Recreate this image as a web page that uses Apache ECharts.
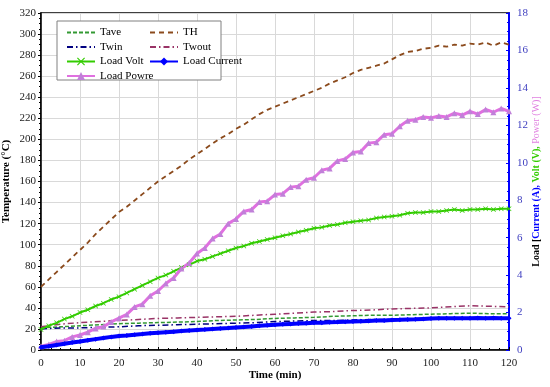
<!DOCTYPE html>
<html><head><meta charset="utf-8">
<script src="https://cdn.jsdelivr.net/npm/echarts@6/dist/echarts.min.js"></script>
<style>html,body{margin:0;padding:0;background:#fff}#c{width:550px;height:387px}</style>
</head><body><div id="c"></div>
<script>
// time axis (min)
const time2 = [0,2,4,6,8,10,12,14,16,18,20,22,24,26,28,30,32,34,36,38,40,42,44,46,48,50,52,54,56,58,60,62,64,66,68,70,72,74,76,78,80,82,84,86,88,90,92,94,96,98,100,102,104,106,108,110,112,114,116,118,120];
const time5 = [0,5,10,15,20,25,30,35,40,45,50,55,60,65,70,75,80,85,90,95,100,105,110,115,120];
// temperatures (°C), left axis
const TH = [60,67,74,81,88,95,102,110,117,124,131,136,142,148,154,160,165,170,175,181,186,191,196,201,205,210,214,219,224,228,231,234,237,240,243,246,249,253,256,259,263,266,268,270,272,276,280,283,284,286,287,289,288,290,289,291,290,292,289,292,290];
const Tave = [21,22,23,24,25,25.5,26,26.5,27,28,28.5,29,30,30.5,31,32,32.5,33,33,33.5,34,34.5,35,34.5,34.5];
const Twin = [20,21,21,21.5,22,23,23.5,24,24.5,25,25.5,26,27,27.5,28,28,28.5,29,29,29.5,30,30,30.5,30.5,30.5];
const Twout = [22,24.5,26,27,28,29,30,30.5,31,31.5,32,33,34,35,36,36.5,37.5,38,39,39.5,40,41,42,41.5,41];
// load (right axis)
const loadVolt = [1.1,1.3,1.45,1.65,1.8,2.0,2.15,2.35,2.5,2.7,2.85,3.05,3.25,3.45,3.65,3.85,4.0,4.2,4.4,4.55,4.75,4.85,5.0,5.15,5.3,5.45,5.55,5.7,5.8,5.9,6.0,6.1,6.2,6.3,6.4,6.5,6.55,6.65,6.7,6.8,6.85,6.9,6.95,7.05,7.1,7.15,7.2,7.3,7.35,7.35,7.4,7.4,7.45,7.5,7.45,7.5,7.5,7.55,7.5,7.55,7.55];
const loadCurrent = [0.15,0.2,0.27,0.33,0.4,0.45,0.52,0.58,0.64,0.7,0.75,0.78,0.82,0.85,0.89,0.92,0.95,0.98,1.01,1.04,1.07,1.09,1.12,1.15,1.17,1.2,1.23,1.26,1.29,1.32,1.35,1.37,1.39,1.41,1.43,1.45,1.46,1.48,1.49,1.51,1.52,1.54,1.55,1.57,1.58,1.6,1.61,1.63,1.64,1.66,1.68,1.69,1.69,1.7,1.7,1.7,1.71,1.7,1.71,1.7,1.7];
const loadPowre = [0.2,0.3,0.45,0.5,0.7,0.8,0.95,1.15,1.25,1.5,1.7,1.9,2.3,2.45,2.9,3.15,3.55,3.85,4.35,4.65,5.15,5.45,5.95,6.2,6.75,7.0,7.4,7.5,7.9,7.95,8.3,8.35,8.7,8.75,9.1,9.2,9.6,9.7,10.1,10.2,10.55,10.6,11.05,11.1,11.5,11.55,11.95,12.25,12.3,12.45,12.4,12.5,12.45,12.65,12.55,12.75,12.6,12.85,12.7,12.9,12.75];

const pairs = (t, v) => t.map((x, i) => [x, v[i]]);
const serif = 'Liberation Serif';
const X_SYM = 'path://M0,1L1,0L5,4L9,0L10,1L6,5L10,9L9,10L5,6L1,10L0,9L4,5Z';
const noSym = name => ({ name: name, itemStyle: { opacity: 0 } });
const legendText = { fontFamily: serif, fontSize: 11, color: '#000' };

const chart = echarts.init(document.getElementById('c'));
chart.setOption({
  animation: false,
  backgroundColor: '#fff',
  textStyle: { fontFamily: serif },
  grid: { left: 41, right: 41, top: 13, bottom: 37, outerBoundsMode: 'none', containLabel: false,
    show: true, borderColor: '#000', borderWidth: 1.5 },
  graphic: [{ type: 'rect', shape: { x: 57, y: 21, width: 164, height: 59 }, style: { fill: '#fff', stroke: '#808080', lineWidth: 1 }, z: 100 }],
  legend: [
    { data: [noSym('Tave'), noSym('Twin'), 'Load Volt', 'Load Powre'], orient: 'vertical', left: 61, top: 22, itemWidth: 28, itemHeight: 10, itemGap: 3.5,
      textStyle: legendText, z: 110 },
    { data: [noSym('TH'), noSym('Twout'), 'Load Current'], orient: 'vertical', left: 144, top: 22, itemWidth: 28, itemHeight: 10, itemGap: 3.5,
      textStyle: legendText, z: 110 }
  ],
  xAxis: {
    type: 'value', min: 0, max: 120, interval: 10,
    name: 'Time (min)', nameLocation: 'middle', nameGap: 20, nameMoveOverlap: false,
    nameTextStyle: { fontFamily: serif, fontWeight: 'bold', fontSize: 11, color: '#000' },
    axisLine: { lineStyle: { color: '#000', width: 1.5 } },
    axisTick: { inside: true, length: 3, lineStyle: { color: '#000' } },
    minorTick: { show: true, splitNumber: 4, length: 2, lineStyle: { color: '#000' } },
    axisLabel: { fontFamily: serif, fontSize: 11, color: '#222', margin: 8 },
    splitLine: { show: true, lineStyle: { color: '#d9d9d9', width: 1 } }
  },
  yAxis: [
    { type: 'value', min: 0, max: 320, interval: 20, position: 'left',
      name: 'Temperature (°C)', nameLocation: 'middle', nameGap: 29, nameRotate: 90, nameMoveOverlap: false,
      nameTextStyle: { fontFamily: serif, fontWeight: 'bold', fontSize: 11, color: '#000' },
      axisLine: { show: true, lineStyle: { color: '#000', width: 1.5 } },
      axisTick: { show: true, inside: false, length: 3, lineStyle: { color: '#000' } },
      minorTick: { show: true, splitNumber: 4, length: 2, lineStyle: { color: '#000' } },
      axisLabel: { fontFamily: serif, fontSize: 11, color: '#222', margin: 5 },
      splitLine: { show: true, lineStyle: { color: '#d9d9d9', width: 1 } }
    },
    { type: 'value', min: 0, max: 18, interval: 2, position: 'right',
      name: '{k|Load [}{c|Current (A),} {v|Volt (V),} {p|Power (W)]}', nameLocation: 'middle', nameGap: 22, nameRotate: 90, nameMoveOverlap: false,
      nameTextStyle: { fontFamily: serif, fontSize: 10, rich: {
        k: { fontFamily: serif, fontWeight: 'bold', fontSize: 10, color: '#000' },
        c: { fontFamily: serif, fontWeight: 'bold', fontSize: 10, color: '#0000ff' },
        v: { fontFamily: serif, fontWeight: 'bold', fontSize: 10, color: '#33cc00' },
        p: { fontFamily: serif, fontSize: 10, color: '#e080e0' } } },
      axisLine: { show: true, lineStyle: { color: '#0000ff', width: 2 } },
      axisTick: { show: true, inside: true, length: 3, lineStyle: { color: '#0000ff' } },
      minorTick: { show: true, splitNumber: 4, length: 2, lineStyle: { color: '#0000ff' } },
      axisLabel: { fontFamily: serif, fontSize: 11, color: '#4040c0', margin: 8 },
      splitLine: { show: false }
    }
  ],
  series: [
    { name: 'Tave', type: 'line', yAxisIndex: 0, data: pairs(time5, Tave), showSymbol: false,
      lineStyle: { color: '#339933', width: 1.5, type: [4, 2] }, itemStyle: { color: '#339933' }, z: 3 },
    { name: 'TH', type: 'line', yAxisIndex: 0, data: pairs(time2, TH), showSymbol: false,
      lineStyle: { color: '#8b4a1c', width: 1.8, type: [5, 4] }, itemStyle: { color: '#8b4a1c' }, z: 3 },
    { name: 'Twin', type: 'line', yAxisIndex: 0, data: pairs(time5, Twin), showSymbol: false,
      lineStyle: { color: '#000080', width: 1.5, type: [6, 3, 1.5, 3] }, itemStyle: { color: '#000080' }, z: 3 },
    { name: 'Twout', type: 'line', yAxisIndex: 0, data: pairs(time5, Twout), showSymbol: false,
      lineStyle: { color: '#993366', width: 1.5, type: [6, 3, 1.5, 3] }, itemStyle: { color: '#993366' }, z: 3 },
    { name: 'Load Volt', type: 'line', yAxisIndex: 1, data: pairs(time2, loadVolt), symbol: X_SYM, symbolSize: 5,
      lineStyle: { color: '#33cc00', width: 2 }, itemStyle: { color: '#33cc00' }, z: 4 },
    { name: 'Load Current', type: 'line', yAxisIndex: 1, data: pairs(time2, loadCurrent), symbol: 'diamond', symbolSize: 5,
      lineStyle: { color: '#0000ff', width: 4 }, itemStyle: { color: '#0000ff' }, z: 5 },
    { name: 'Load Powre', type: 'line', yAxisIndex: 1, data: pairs(time2, loadPowre), symbol: 'triangle', symbolSize: 6,
      lineStyle: { color: '#e070e0', width: 3 }, itemStyle: { color: '#c080d8' }, z: 4 }
  ]
});
</script>
</body></html>
